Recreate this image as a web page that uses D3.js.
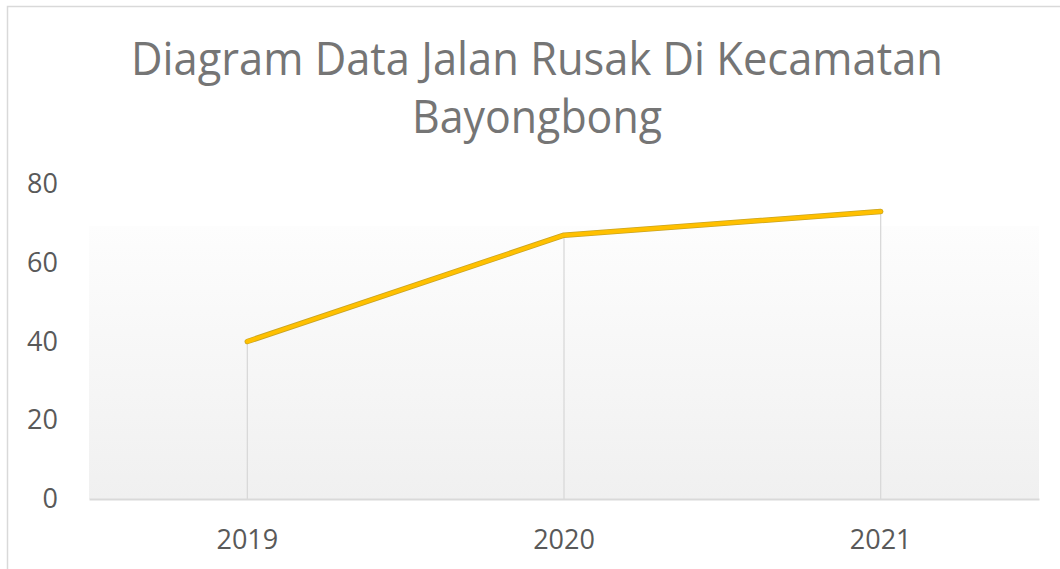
<!DOCTYPE html>
<html>
<head>
<meta charset="utf-8">
<script src="https://cdn.jsdelivr.net/npm/d3@7"></script>
<style>
  html, body { margin: 0; padding: 0; background: #fff; }
  svg { display: block; }
</style>
</head>
<body>
<svg id="chart" width="1060" height="569"></svg>
<script>
const titleLines = ["Diagram Data Jalan Rusak Di Kecamatan", "Bayongbong"];
const categories = ["2019", "2020", "2021"];
const values = [40, 67, 73];
const yTicks = [0, 20, 40, 60, 80];

const svg = d3.select("#chart");
const W = 1060, H = 569;
const plot = { left: 89, right: 1039, top: 184, bottom: 499 };

// outer chart frame (extends beyond the picture on right/bottom)
svg.append("rect")
  .attr("x", 7.5).attr("y", 6.5)
  .attr("width", W + 20).attr("height", H + 20)
  .attr("fill", "#fff").attr("stroke", "#d9d9d9").attr("stroke-width", 1.5);

// title
const title = svg.append("g").attr("font-family", "'Open Sans', sans-serif")
  .attr("fill", "#757575").attr("font-size", 45).attr("text-anchor", "middle");
title.append("text").attr("x", 537).attr("y", 75)
  .attr("textLength", 812).attr("lengthAdjust", "spacingAndGlyphs")
  .text(titleLines[0]);
title.append("text").attr("x", 537).attr("y", 133)
  .attr("textLength", 250).attr("lengthAdjust", "spacingAndGlyphs")
  .text(titleLines[1]);

const x = d3.scaleBand().domain(categories).range([plot.left, plot.right]).padding(0);
const y = d3.scaleLinear().domain([0, 80]).range([plot.bottom, plot.top]);

// plot area gradient
const defs = svg.append("defs");
const grad = defs.append("linearGradient").attr("id", "pa")
  .attr("x1", 0).attr("y1", 0).attr("x2", 0).attr("y2", 1);
grad.append("stop").attr("offset", "0%").attr("stop-color", "#fdfdfd");
grad.append("stop").attr("offset", "100%").attr("stop-color", "#f0f0f0");
svg.append("rect")
  .attr("x", plot.left).attr("y", 226)
  .attr("width", plot.right - plot.left).attr("height", plot.bottom - 226)
  .attr("fill", "url(#pa)");

// drop lines
svg.append("g").selectAll("line").data(categories).join("line")
  .attr("x1", d => x(d) + x.bandwidth() / 2)
  .attr("x2", d => x(d) + x.bandwidth() / 2)
  .attr("y1", (d, i) => y(values[i]))
  .attr("y2", y(0))
  .attr("stroke", "#d9d9d9").attr("stroke-width", 1.3);

// x axis
const xAxis = svg.append("g").attr("transform", `translate(0,${plot.bottom})`)
  .call(d3.axisBottom(x).tickSize(0).tickPadding(31));
xAxis.select(".domain").attr("stroke", "#d9d9d9").attr("stroke-width", 2);
xAxis.selectAll("text").attr("font-family", "'Open Sans', sans-serif")
  .attr("font-size", 27).attr("fill", "#595959");

// y axis (labels only)
const yAxis = svg.append("g").attr("transform", `translate(58,0)`)
  .call(d3.axisLeft(y).tickValues(yTicks).tickSize(0).tickPadding(0));
yAxis.select(".domain").remove();
yAxis.selectAll("text").attr("font-family", "'Open Sans', sans-serif")
  .attr("font-size", 27).attr("fill", "#595959");

// line
const line = d3.line()
  .x((d, i) => x(categories[i]) + x.bandwidth() / 2)
  .y(d => y(d));
svg.append("path").datum(values).attr("d", line)
  .attr("fill", "none").attr("stroke", "#c9a421").attr("stroke-width", 5.5)
  .attr("stroke-linecap", "round").attr("stroke-linejoin", "round");
svg.append("path").datum(values).attr("d", line)
  .attr("fill", "none").attr("stroke", "#ffc000").attr("stroke-width", 4)
  .attr("stroke-linecap", "round").attr("stroke-linejoin", "round");
</script>
</body>
</html>
